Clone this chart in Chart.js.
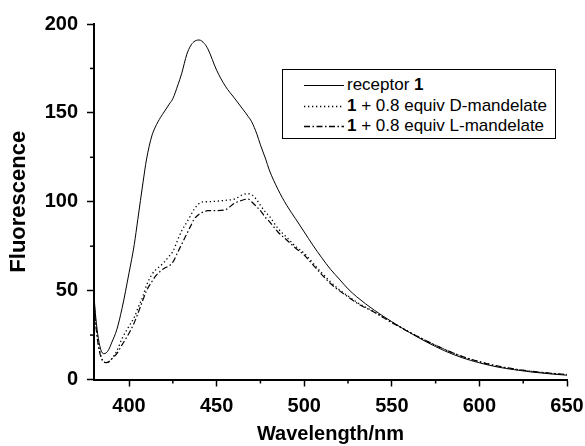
<!DOCTYPE html>
<html>
<head>
<meta charset="utf-8">
<script src="https://cdn.jsdelivr.net/npm/chart.js@4/dist/chart.umd.min.js"></script>
<style>
  html, body { margin: 0; padding: 0; background: #fff; }
  #wrap { position: relative; width: 585px; height: 446px; }
  #legend {
    position: absolute; left: 282px; top: 69px; width: 274px; height: 70px;
    border: 1px solid #000; background: #fff; box-sizing: border-box;
    font-family: "Liberation Sans", Arial, sans-serif; font-size: 17px; color: #000;
    padding-top: 5px;
  }
  #legend .row { height: 20.5px; line-height: 20.5px; white-space: nowrap; position: relative; }
  #legend svg { position: absolute; left: 20px; top: 5px; }
  #legend span { position: absolute; left: 64px; top: 0; }
</style>
</head>
<body>
<div id="wrap">
  <canvas id="c" width="585" height="446"></canvas>
  <div id="legend">
    <div class="row"><svg width="42" height="10"><line x1="1" y1="5.5" x2="41" y2="5.5" stroke="#000" stroke-width="1"/></svg><span>receptor <b>1</b></span></div>
    <div class="row"><svg width="42" height="10"><line x1="1" y1="5.5" x2="41" y2="5.5" stroke="#000" stroke-width="1.3" stroke-dasharray="1.3,2.7"/></svg><span><b>1</b> + 0.8 equiv D-mandelate</span></div>
    <div class="row"><svg width="42" height="10"><line x1="1" y1="5.5" x2="41" y2="5.5" stroke="#000" stroke-width="1.3" stroke-dasharray="6,2.5,1.5,2.5"/></svg><span><b>1</b> + 0.8 equiv L-mandelate</span></div>
  </div>
</div>
<script>
// ---- data ----
const wavelengths = [380, 381, 382.5, 384, 385.5, 387, 388.5, 390, 393, 396, 400, 403, 405, 408, 410, 413, 415, 418, 420, 423, 425, 428, 430, 433, 435, 437, 440, 443, 445, 450, 455, 460, 465, 468, 470, 473, 475, 478, 480, 485, 490, 495, 500, 505, 510, 515, 520, 525, 530, 540, 550, 560, 570, 580, 590, 600, 610, 620, 630, 640, 650];

const receptor1 = [47, 35, 23, 16.5, 14.5, 15, 17, 20.5, 28, 40, 60, 76, 90, 111, 124, 137, 142, 147.5, 150.5, 155, 158, 166, 172, 183, 187.5, 190, 191, 189, 186, 174, 165, 158.5, 152, 148, 145, 138, 132, 124, 118, 107, 98, 90.5, 83, 75.5, 68.5, 62, 56.5, 51, 46.5, 39, 32.5, 26.5, 21, 16.2, 12.3, 9.4, 7.1, 5.5, 4.2, 3.2, 2.4];

const dMandelate = [45, 32, 20, 13, 10, 9.5, 10, 11.5, 16, 23, 30, 35, 40, 47, 53, 59, 61.5, 64, 66, 69.5, 72, 79, 83.5, 88.5, 92, 95.5, 99, 100, 100, 100.3, 100.8, 101.5, 104, 104.5, 104, 101, 98, 94, 92, 85, 80, 75, 71, 65.5, 60, 55, 50.5, 47, 43.5, 38, 32.3, 26.8, 21.6, 17, 13, 10, 7.6, 5.8, 4.5, 3.5, 2.7];

const lMandelate = [44, 31, 19, 12.5, 10, 9.5, 10, 11.5, 14.5, 19.5, 26, 32, 37, 45, 50, 55, 58, 61, 62.5, 64, 66, 72, 76, 82, 86, 90, 93, 94.5, 95, 95, 95.5, 99, 101, 101.5, 100, 97, 95, 91, 89, 83, 78.5, 74, 70, 64.5, 59, 54, 50, 46.5, 43, 37.8, 32, 26.6, 21.6, 17, 13, 10, 7.7, 5.9, 4.6, 3.6, 2.8];

const xTicks = [400, 425, 450, 475, 500, 525, 550, 575, 600, 625, 650];
const yTicks = [0, 25, 50, 75, 100, 125, 150, 175, 200];
const xMajor = [400, 450, 500, 550, 600, 650];
const yMajor = [0, 50, 100, 150, 200];

const toPts = (vals) => wavelengths.map((w, i) => ({ x: w, y: vals[i] }));

const FONT = '"Liberation Sans", Arial, sans-serif';

const minorTicks = {
  id: 'minorTicks',
  afterDraw(chart) {
    const ctx = chart.ctx;
    const xs = chart.scales.x, ys = chart.scales.y;
    ctx.save();
    ctx.strokeStyle = '#000';
    ctx.lineWidth = 1.5;
    xTicks.filter(v => !xMajor.includes(v)).forEach(v => {
      const px = xs.getPixelForValue(v);
      ctx.beginPath(); ctx.moveTo(px, xs.top); ctx.lineTo(px, xs.top + 4); ctx.stroke();
    });
    yTicks.filter(v => !yMajor.includes(v)).forEach(v => {
      const py = ys.getPixelForValue(v);
      ctx.beginPath(); ctx.moveTo(ys.right, py); ctx.lineTo(ys.right - 4, py); ctx.stroke();
    });
    ctx.restore();
  }
};

new Chart(document.getElementById('c'), {
  type: 'line',
  data: {
    datasets: [
      { label: 'receptor 1', data: toPts(receptor1), borderColor: '#000', borderWidth: 1 },
      { label: '1 + 0.8 equiv D-mandelate', data: toPts(dMandelate), borderColor: '#000', borderWidth: 1.3, borderDash: [1.3, 2.7] },
      { label: '1 + 0.8 equiv L-mandelate', data: toPts(lMandelate), borderColor: '#000', borderWidth: 1.2, borderDash: [6, 2.5, 1.5, 2.5] }
    ]
  },
  options: {
    responsive: false,
    animation: false,
    devicePixelRatio: 1,
    layout: { padding: { left: 0, top: 24, right: 18, bottom: 0 } },
    elements: { point: { radius: 0 }, line: { cubicInterpolationMode: 'monotone', fill: false } },
    plugins: { legend: { display: false }, tooltip: { enabled: false } },
    scales: {
      x: {
        type: 'linear', min: 380, max: 650,
        afterBuildTicks: (s) => { s.ticks = xTicks.map(v => ({ value: v })); },
        afterFit: (s) => { s.height = 66.5; s.paddingRight = 0; s.paddingLeft = 0; },
        ticks: {
          autoSkip: false, maxRotation: 0, color: '#000', padding: 8,
          font: { family: FONT, size: 20, weight: 'bold' },
          callback: (v) => xMajor.includes(v) ? String(v) : ''
        },
        grid: {
          drawOnChartArea: false, drawTicks: true, tickLength: 7, tickWidth: 1.5,
          tickColor: (c) => (c.tick && xMajor.includes(c.tick.value)) ? '#000' : 'rgba(0,0,0,0)'
        },
        border: { display: true, color: '#000', width: 2 },
        title: { display: true, text: 'Wavelength/nm', color: '#000', padding: { top: 0, bottom: 0 },
                 font: { family: FONT, size: 20, weight: 'bold' } }
      },
      y: {
        min: 0, max: 200,
        afterBuildTicks: (s) => { s.ticks = yTicks.map(v => ({ value: v })); },
        afterFit: (s) => { s.width = 94; s.paddingTop = 0; s.paddingBottom = 0; },
        ticks: {
          autoSkip: false, color: '#000', padding: 9,
          font: { family: FONT, size: 20, weight: 'bold' },
          callback: (v) => yMajor.includes(v) ? String(v) : ''
        },
        grid: {
          drawOnChartArea: false, drawTicks: true, tickLength: 7, tickWidth: 1.5,
          tickColor: (c) => (c.tick && yMajor.includes(c.tick.value)) ? '#000' : 'rgba(0,0,0,0)'
        },
        border: { display: true, color: '#000', width: 2 },
        title: { display: true, text: 'Fluorescence', color: '#000', padding: { top: 6, bottom: 0 },
                 font: { family: FONT, size: 22, weight: 'bold' } }
      }
    }
  },
  plugins: [minorTicks]
});
</script>
</body>
</html>
